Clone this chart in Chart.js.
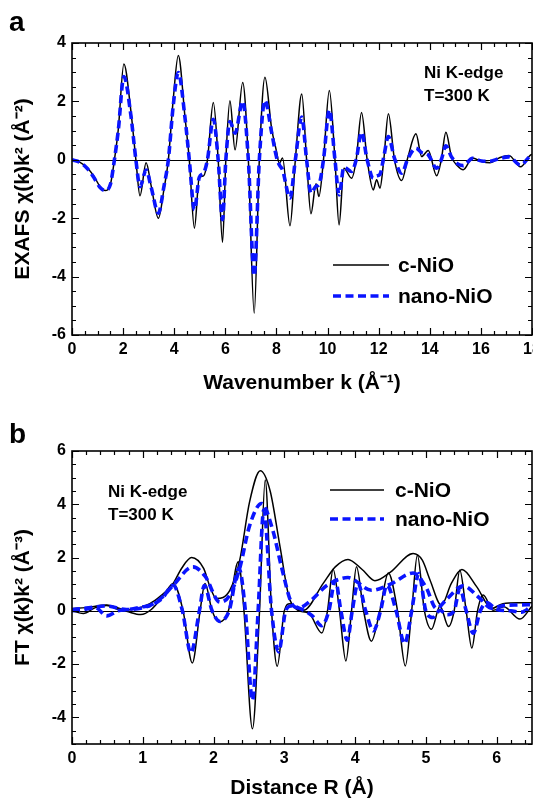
<!DOCTYPE html>
<html>
<head>
<meta charset="utf-8">
<title>NiO EXAFS</title>
<script src="https://cdn.jsdelivr.net/npm/chart.js@4.4.0/dist/chart.umd.min.js"></script>
<style>
    html, body { margin: 0; padding: 0; background: #fff; }
    canvas { display: block; }
</style>
</head>
<body>
<canvas id="chartExafs" width="533" height="400"></canvas>
<canvas id="chartFt" width="533" height="399"></canvas>
<script>
// (a) k^2-weighted EXAFS oscillations
const kValues = [0, 0.3, 0.6, 0.85, 1.1, 1.3, 1.5, 1.66, 1.81, 2.03, 2.3, 2.5, 2.66, 2.9, 3.1, 3.38, 3.6, 3.77, 3.96, 4.16,
    4.42, 4.59, 4.79, 4.98, 5.15, 5.3, 5.53, 5.72, 5.89, 6.02, 6.18, 6.38, 6.68, 6.9, 7.13, 7.33, 7.55, 7.81, 8.0, 8.11,
    8.24, 8.53, 8.74, 8.99, 9.18, 9.35, 9.55, 9.66, 9.84, 10.07, 10.29, 10.45, 10.64, 10.94, 11.12, 11.33, 11.55, 11.79, 11.92, 12.05,
    12.2, 12.38, 12.62, 12.9, 13.15, 13.46, 13.68, 13.94, 14.27, 14.45, 14.63, 14.85, 15.09, 15.31, 15.67, 16.03, 16.35, 16.75, 17.1, 17.55,
    17.95, 18];
const exafsBulk = [0, -0.08, -0.28, -0.55, -0.92, -1.05, -0.85, 0, 1.03, 3.28, 1.7, 0, -1.23, -0.1, -0.9, -2.0, -1.0, 0, 2.05, 3.57,
    1.48, 0, -2.34, -0.6, -0.55, 0, 1.96, 0, -2.83, 0, 2.02, 0.34, 2.65, 0, -5.25, 0, 2.83, 1.08, 0.3, -0.12,
    0.06, -2.26, 0, 2.25, 0, -1.85, -0.82, -1.26, 0, 2.37, 0, -2.23, -0.29, -0.63, 0, 1.62, 0, -1.03, -0.68, -0.97,
    0, 1.58, 0, -0.71, 0.11, 0.89, 0.11, 0.32, -0.55, 0, 0.94, 0.1, -0.21, -0.34, 0.06, -0.06, -0.1, 0.08, 0.15, -0.24,
    0.17, 0.18];
const exafsNano = [0, -0.08, -0.3, -0.6, -0.95, -1.05, -0.85, 0, 1.0, 2.85, 1.55, 0, -0.92, -0.35, -0.95, -1.83, -0.9, 0, 1.85, 2.99,
    1.45, 0, -1.71, -0.6, -0.45, 0, 1.39, 0, -2.05, 0, 1.31, 0.91, 2.0, 0, -3.97, 0, 2.03, 0.95, 0.1, -0.17,
    -0.35, -1.31, 0, 1.46, 0, -1.14, -0.9, -0.85, 0, 1.71, 0, -1.2, -0.25, -0.4, 0, 0.94, 0, -0.63, -0.55, -0.5,
    0.1, 0.8, 0.05, -0.46, 0.05, 0.4, 0.25, 0.17, -0.29, 0, 0.48, 0.1, -0.14, -0.2, 0.05, -0.04, -0.05, 0.05, 0.1, -0.18,
    0.15, 0.17];
const kTicks = [0, 2, 4, 6, 8, 10, 12, 14, 16, 18];
const exafsTicks = [-6, -4, -2, 0, 2, 4];

// (b) Fourier transform: magnitude envelopes and real parts
const rMagBulk = [0, 0.2, 0.49, 0.77, 1.1, 1.25, 1.43, 1.55, 1.69, 1.86, 1.95, 2.04, 2.23, 2.37, 2.51, 2.66, 2.8, 2.94, 3.08, 3.27,
    3.55, 3.72, 3.9, 4.1, 4.28, 4.5, 4.82, 4.95, 5.06, 5.22, 5.36, 5.51, 5.72, 5.93, 6.09, 6.3, 6.5];
const ftMagBulk = [0.08, 0.12, 0.22, 0.03, 0.27, 0.55, 1.03, 1.6, 2.0, 1.59, 0.9, 0.46, 0.77, 1.9, 4.1, 5.26, 4.5, 2.4, 0.4, 0.02,
    1.03, 1.65, 1.93, 1.55, 1.13, 1.45, 2.15, 1.9, 1.15, 0.21, 1.03, 1.55, 0.9, 0.09, 0.27, 0.3, 0.3];
const rMagNano = [0, 0.2, 0.48, 0.77, 1.1, 1.27, 1.43, 1.71, 1.88, 2.09, 2.23, 2.37, 2.51, 2.68, 2.84, 2.96, 3.1, 3.2, 3.38, 3.6,
    3.9, 4.23, 4.5, 4.82, 5.0, 5.15, 5.3, 5.53, 5.75, 5.93, 6.1, 6.3, 6.5];
const ftMagNano = [0.05, 0.1, 0.18, 0.05, 0.2, 0.5, 0.96, 1.65, 1.3, 0.33, 0.59, 1.6, 3.2, 4.03, 3.0, 1.65, 0.3, 0.11, 0.4, 0.95,
    1.25, 0.77, 1.0, 1.42, 0.9, 0.09, 0.45, 0.94, 0.5, 0.1, 0.2, 0.22, 0.23];
const rReBulk = [0, 0.16, 0.33, 0.49, 0.65, 0.77, 0.97, 1.12, 1.3, 1.43, 1.57, 1.7, 1.81, 1.88, 1.98, 2.08, 2.21, 2.35, 2.43, 2.55,
    2.65, 2.73, 2.82, 2.9, 3.0, 3.08, 3.2, 3.35, 3.53, 3.61, 3.69, 3.78, 3.87, 3.95, 4.02, 4.12, 4.23, 4.35, 4.47, 4.6,
    4.71, 4.8, 4.88, 4.98, 5.08, 5.2, 5.32, 5.4, 5.48, 5.57, 5.65, 5.73, 5.81, 5.95, 6.1, 6.33, 6.5];
const ftReBulk = [0, -0.1, 0.12, 0.2, 0.05, -0.02, -0.14, 0.05, 0.6, 1.03, 0, -1.96, 0, 1.03, 0, -0.42, 0, 1.84, 0, -4.43,
    0, 4.91, 0, -2.08, 0, 0.27, 0, -0.1, -0.83, 0, 1.56, 0, -1.88, 0, 1.65, 0, -1.14, 0, 1.42, 0,
    -2.07, 0, 2.09, 0, -0.69, 0.18, -0.59, 0, 1.52, 0, -1.4, 0, 0.59, 0.02, 0.15, -0.31, 0.18];
const rReNano = [0, 0.16, 0.33, 0.49, 0.65, 0.8, 1.0, 1.1, 1.27, 1.43, 1.56, 1.68, 1.8, 1.87, 1.98, 2.09, 2.22, 2.36, 2.45, 2.55,
    2.63, 2.71, 2.82, 2.92, 3.02, 3.1, 3.25, 3.4, 3.53, 3.63, 3.72, 3.8, 3.89, 3.96, 4.04, 4.15, 4.26, 4.36, 4.45, 4.58,
    4.7, 4.8, 4.9, 5.0, 5.1, 5.2, 5.3, 5.4, 5.48, 5.57, 5.67, 5.77, 5.86, 6.0, 6.2, 6.35, 6.5];
const ftReNano = [0, 0.05, 0.12, -0.19, 0, 0.05, 0.15, 0.2, 0.45, 0.96, 0, -1.58, 0, 0.95, 0, -0.4, 0, 1.59, 0, -3.36,
    0, 3.78, 0, -1.54, 0, 0.18, 0.05, -0.2, -0.56, 0, 1.15, 0, -1.1, 0, 1.03, 0, -0.75, 0, 0.96, 0,
    -1.23, 0, 1.4, 0, -0.25, 0.02, -0.15, 0, 0.84, 0, -0.84, 0, 0.31, 0.05, 0, -0.05, 0.2];
const rTicks = [0, 1, 2, 3, 4, 5, 6];
const ftTicks = [-4, -2, 0, 2, 4, 6];

const FONT = "'Liberation Sans', Arial, Helvetica, sans-serif";
const bulkStyle = { borderColor: '#000000', borderWidth: 1.5, order: 1 };
const nanoStyle = { borderColor: '#0a14ff', borderWidth: 3.6, borderDash: [8, 4.5], order: 0 };

Chart.defaults.font.family = FONT;
Chart.defaults.font.weight = 'bold';
Chart.defaults.color = '#000';

const toPoints = (xs, ys) => xs.map((x, i) => ({ x: x, y: ys[i] }));

// zero line, box frame and inward major/minor ticks on all four sides
const axisFrame = {
    id: 'axisFrame',
    beforeDatasetsDraw(chart) {
        const { ctx, chartArea: a, scales: { y } } = chart;
        const y0 = Math.round(y.getPixelForValue(0)) + 0.5;
        ctx.save();
        ctx.strokeStyle = '#000';
        ctx.lineWidth = 1.2;
        ctx.beginPath();
        ctx.moveTo(a.left, y0);
        ctx.lineTo(a.right, y0);
        ctx.stroke();
        ctx.restore();
    },
    afterDatasetsDraw(chart, args, opts) {
        const { ctx, chartArea: a, scales: { x, y } } = chart;
        const isMajor = (scale, v) => scale.ticks.some(t => Math.abs(t.value - v) < 1e-6);
        ctx.save();
        ctx.strokeStyle = '#000';
        ctx.lineWidth = 1.2;
        ctx.beginPath();
        for (let i = 0; x.min + i * opts.xMinor <= x.max + 1e-9; i++) {
            const v = x.min + i * opts.xMinor;
            const len = isMajor(x, v) ? 7 : 4;
            const px = Math.round(x.getPixelForValue(v)) + 0.5;
            ctx.moveTo(px, a.bottom);
            ctx.lineTo(px, a.bottom - len);
            ctx.moveTo(px, a.top);
            ctx.lineTo(px, a.top + len);
        }
        for (let i = 0; y.min + i * opts.yMinor <= y.max + 1e-9; i++) {
            const v = y.min + i * opts.yMinor;
            const len = isMajor(y, v) ? 7 : 4;
            const py = Math.round(y.getPixelForValue(v)) + 0.5;
            ctx.moveTo(a.left, py);
            ctx.lineTo(a.left + len, py);
            ctx.moveTo(a.right, py);
            ctx.lineTo(a.right - len, py);
        }
        ctx.stroke();
        ctx.lineWidth = 1.6;
        ctx.strokeRect(a.left, a.top, a.width, a.height);
        ctx.restore();
    }
};

// legend, sample note and panel letter drawn inside the frame
const panelText = {
    id: 'panelText',
    afterDraw(chart, args, opts) {
        const ctx = chart.ctx;
        ctx.save();
        ctx.fillStyle = '#000';
        ctx.textBaseline = 'middle';
        ctx.textAlign = 'left';

        ctx.font = 'bold 28px ' + FONT;
        ctx.textBaseline = 'alphabetic';
        ctx.fillText(opts.letter.text, opts.letter.x, opts.letter.y);
        ctx.textBaseline = 'middle';

        ctx.font = 'bold 17px ' + FONT;
        opts.note.lines.forEach((line, i) => {
            ctx.fillText(line, opts.note.x, opts.note.y + i * opts.note.gap);
        });

        const lg = opts.legend;
        lg.labels.forEach((label, i) => {
            const ds = chart.data.datasets.find(d => d.label === label);
            const yy = lg.y + i * lg.gap;
            ctx.strokeStyle = ds.borderColor;
            ctx.lineWidth = ds.borderWidth;
            ctx.setLineDash(ds.borderDash || []);
            ctx.beginPath();
            ctx.moveTo(lg.x1, yy);
            ctx.lineTo(lg.x2, yy);
            ctx.stroke();
            ctx.setLineDash([]);
            ctx.font = 'bold 21px ' + FONT;
            ctx.fillText(label, lg.textX, yy + 1);
        });
        ctx.restore();
    }
};

function drawPanel(canvasId, cfg) {
    const config = {
        type: 'line',
        data: { datasets: cfg.datasets },
        options: {
            responsive: false,
            animation: false,
            layout: { padding: { top: cfg.top, right: 1, left: 0, bottom: 0 } },
            elements: {
                point: { radius: 0 },
                line: { cubicInterpolationMode: 'monotone', fill: false }
            },
            plugins: {
                legend: { display: false },
                tooltip: { enabled: false },
                axisFrame: { xMinor: cfg.xMinor, yMinor: cfg.yMinor },
                panelText: cfg.text
            },
            scales: {
                x: {
                    type: 'linear',
                    min: cfg.xMin,
                    max: cfg.xMax,
                    grid: { display: false, drawTicks: false },
                    border: { display: false },
                    ticks: { padding: 5, font: { size: 16 }, maxRotation: 0, callback: v => String(v) },
                    afterBuildTicks: s => { s.ticks = cfg.xTicks.map(v => ({ value: v })); },
                    afterFit: s => { s.height = cfg.xHeight; s.paddingLeft = 0; s.paddingRight = 0; },
                    title: {
                        display: true,
                        text: cfg.xTitle,
                        font: { size: 21, lineHeight: 1 },
                        padding: { top: 0, bottom: cfg.xTitlePad }
                    }
                },
                y: {
                    type: 'linear',
                    min: cfg.yMin,
                    max: cfg.yMax,
                    grid: { display: false, drawTicks: false },
                    border: { display: false },
                    ticks: { padding: 6, font: { size: 16 }, callback: v => String(v) },
                    afterBuildTicks: s => { s.ticks = cfg.yTicks.map(v => ({ value: v })); },
                    afterFit: s => { s.width = 72; s.paddingTop = 0; s.paddingBottom = 0; },
                    title: {
                        display: true,
                        text: cfg.yTitle,
                        font: { size: 21, lineHeight: 1 },
                        padding: { top: 13, bottom: 0 }
                    }
                }
            }
        },
        plugins: [axisFrame, panelText]
    };
    return new Chart(document.getElementById(canvasId), config);
}

window.onload = function() {
    drawPanel('chartExafs', {
        datasets: [
            Object.assign({ label: 'c-NiO', data: toPoints(kValues, exafsBulk) }, bulkStyle),
            Object.assign({ label: 'nano-NiO', data: toPoints(kValues, exafsNano) }, nanoStyle)
        ],
        top: 43, xHeight: 65, xTitlePad: 6,
        xMin: 0, xMax: 18, xTicks: kTicks, xMinor: 0.5,
        yMin: -6, yMax: 4, yTicks: exafsTicks, yMinor: 0.5,
        xTitle: 'Wavenumber k (Å⁻¹)',
        yTitle: 'EXAFS χ(k)k² (Å⁻²)',
        text: {
            letter: { text: 'a', x: 9, y: 31 },
            note: { lines: ['Ni K-edge', 'T=300 K'], x: 424, y: 73, gap: 23 },
            legend: { labels: ['c-NiO', 'nano-NiO'], x1: 333, x2: 389, textX: 398, y: 265, gap: 31 }
        }
    });

    drawPanel('chartFt', {
        datasets: [
            Object.assign({ label: 'c-NiO', data: toPoints(rMagBulk, ftMagBulk) }, bulkStyle),
            Object.assign({ label: 'c-NiO Re', data: toPoints(rReBulk, ftReBulk) }, bulkStyle),
            Object.assign({ label: 'nano-NiO', data: toPoints(rMagNano, ftMagNano) }, nanoStyle),
            Object.assign({ label: 'nano-NiO Re', data: toPoints(rReNano, ftReNano) }, nanoStyle)
        ],
        top: 51, xHeight: 55, xTitlePad: 0,
        xMin: 0, xMax: 6.5, xTicks: rTicks, xMinor: 0.2,
        yMin: -5, yMax: 6, yTicks: ftTicks, yMinor: 0.5,
        xTitle: 'Distance R (Å)',
        yTitle: 'FT χ(k)k² (Å⁻³)',
        text: {
            letter: { text: 'b', x: 9, y: 43 },
            note: { lines: ['Ni K-edge', 'T=300 K'], x: 108, y: 92, gap: 23 },
            legend: { labels: ['c-NiO', 'nano-NiO'], x1: 330, x2: 384, textX: 395, y: 90, gap: 29 }
        }
    });
};
</script>
</body>
</html>
